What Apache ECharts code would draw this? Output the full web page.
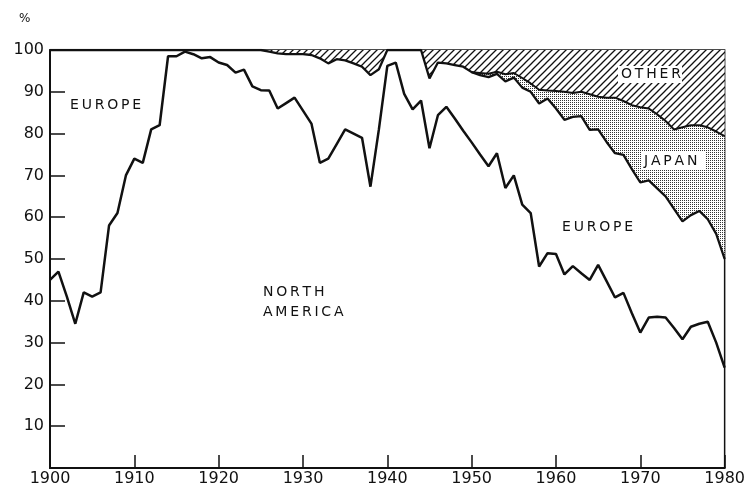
<!DOCTYPE html>
<html>
<head>
<meta charset="utf-8">
<script src="https://cdn.jsdelivr.net/npm/echarts@6/dist/echarts.min.js"></script>
<style>
  html, body { margin: 0; padding: 0; background: #fff; }
  #chart { width: 748px; height: 491px; }
</style>
</head>
<body>
<div id="chart"></div>
<script>
// Years on the x axis, one point per year
const years = Array.from({ length: 81 }, (_, i) => String(1900 + i));

// Upper edge of North America's share (%)
const northAmerica = [
  45, 47, 41, 34.5, 42, 41, 42, 58, 61, 70,
  74, 73, 81, 82, 98.5, 98.5, 99.6, 99, 98, 98.3,
  97, 96.4, 94.6, 95.3, 91.3, 90.4, 90.3, 86, 87.3, 88.6,
  85.5, 82.4, 73, 74, 77.5, 81, 80, 79, 67.3, 81,
  96.2, 97, 89.5, 85.8, 87.9, 76.5, 84.4, 86.4, 83.6, 80.7,
  77.9, 75, 72.2, 75.3, 67, 70, 63, 61, 48.2, 51.4,
  51.2, 46.3, 48.3, 46.6, 45, 48.6, 44.7, 40.8, 41.9, 37,
  32.4, 36, 36.2, 36, 33.5, 30.8, 33.8, 34.5, 35, 30,
  24
];

// Upper edge of North America + Europe (%)
const europeTop = [
  100, 100, 100, 100, 100, 100, 100, 100, 100, 100,
  100, 100, 100, 100, 100, 100, 100, 100, 100, 100,
  100, 100, 100, 100, 100, 100, 99.6, 99.2, 99, 99,
  99, 98.8, 98, 96.8, 97.8, 97.5, 96.8, 96, 94, 95.4,
  100, 100, 100, 100, 100, 93.2, 97, 96.8, 96.4, 96,
  94.7, 94, 93.5, 94.3, 92.5, 93.4, 91, 90, 87.2, 88.4,
  86, 83.3, 84, 84.2, 80.9, 81, 78, 75.3, 74.9, 71.5,
  68.3, 68.8, 66.9, 65, 62, 59, 60.5, 61.5, 59.5, 56,
  50
];

// Upper edge of North America + Europe + Japan (%), 1950-1980
const japanStart = 50; // index of 1950
const japanTop = [
  94.7, 94.5, 94.3, 94.8, 94.2, 94.5, 93.3, 92, 90.5, 90.3,
  90.2, 90, 89.7, 90, 89.4, 88.8, 88.6, 88.6, 87.8, 86.8,
  86.3, 86, 84.6, 83, 81, 81.5, 82, 82, 81.5, 80.5,
  79.4
];

const dom = document.getElementById('chart');
const myChart = echarts.init(dom, null, { renderer: 'canvas' });

// fill patterns
function hatchPattern() {
  const c = document.createElement('canvas');
  c.width = 7; c.height = 7;
  const ctx = c.getContext('2d');
  ctx.fillStyle = '#fff';
  ctx.fillRect(0, 0, 7, 7);
  ctx.strokeStyle = '#111';
  ctx.lineWidth = 1.3;
  ctx.beginPath();
  ctx.moveTo(-1, 8); ctx.lineTo(8, -1);
  ctx.moveTo(-1, 1); ctx.lineTo(1, -1);
  ctx.moveTo(6, 8); ctx.lineTo(8, 6);
  ctx.stroke();
  return c;
}

function dotPattern() {
  const c = document.createElement('canvas');
  c.width = 2; c.height = 2;
  const ctx = c.getContext('2d');
  ctx.fillStyle = '#fff';
  ctx.fillRect(0, 0, 2, 2);
  ctx.fillStyle = '#333';
  ctx.fillRect(0, 0, 1, 1);
  return c;
}

// full-length Japan boundary (null before 1950)
const japanLine = years.map((y, i) => (i >= japanStart ? japanTop[i - japanStart] : null));

// bands for stacked areas
const japanBand = years.map((y, i) => (japanLine[i] == null ? 0 : japanLine[i] - europeTop[i]));
const otherBand = years.map((y, i) => 100 - (japanLine[i] == null ? europeTop[i] : japanLine[i]));

const font = '"DejaVu Sans", sans-serif';
const spaced = (s) => s.split('').join('\u2009');

function label(text, left, top) {
  return {
    type: 'text',
    left, top,
    z: 100,
    style: { text: spaced(text), font: '14px ' + font, fill: '#111' }
  };
}

// white patch behind a label sitting on a pattern
function patch(x, y, width, height) {
  return {
    type: 'rect', z: 99, silent: true,
    shape: { x, y, width, height },
    style: { fill: '#fff' }
  };
}

const option = {
  animation: false,
  backgroundColor: '#fff',
  grid: {
    left: 50, right: 21, top: 50, bottom: 23,
    show: true,
    borderColor: '#111',
    borderWidth: 1.5,
    backgroundColor: 'transparent'
  },
  xAxis: {
    type: 'category',
    data: years,
    boundaryGap: false,
    axisLine: { show: true, lineStyle: { color: '#111', width: 2 } },
    axisTick: { show: true, inside: true, length: 13, interval: 9, lineStyle: { color: '#111', width: 1.5 } },
    axisLabel: { color: '#111', fontSize: 16, fontFamily: font, margin: 3, interval: 9, showMaxLabel: true },
    splitLine: { show: false }
  },
  yAxis: {
    type: 'value',
    min: 0, max: 100, interval: 10,
    axisLine: { show: true, lineStyle: { color: '#111', width: 2 } },
    axisTick: { show: true, inside: true, length: 15, lineStyle: { color: '#111', width: 1.5 } },
    axisLabel: {
      color: '#111', fontSize: 16, fontFamily: font, margin: 6,
      formatter: (v) => (v === 0 ? '' : String(v))
    },
    splitLine: { show: false }
  },
  graphic: [
    { type: 'text', left: 19, top: 13, style: { text: '%', font: '12px ' + font, fill: '#111' } },
    label('EUROPE', 70, 98),
    label('NORTH', 263, 285),
    label('AMERICA', 263, 305),
    patch(618, 66, 64, 17),
    label('OTHER', 621, 67),
    patch(641, 152, 64, 18),
    label('JAPAN', 644, 154),
    label('EUROPE', 562, 220)
  ],
  series: [
    {
      name: 'base', type: 'line', stack: 'share', data: europeTop,
      showSymbol: false, silent: true, lineStyle: { width: 0 }, z: 1
    },
    {
      name: 'Japan', type: 'line', stack: 'share', data: japanBand,
      showSymbol: false, silent: true, lineStyle: { width: 0 },
      areaStyle: { color: { image: dotPattern(), repeat: 'repeat' }, opacity: 1 }, z: 1
    },
    {
      name: 'Other', type: 'line', stack: 'share', data: otherBand,
      showSymbol: false, silent: true, lineStyle: { width: 0 },
      areaStyle: { color: { image: hatchPattern(), repeat: 'repeat' }, opacity: 1 }, z: 1
    },
    {
      name: 'North America', type: 'line', data: northAmerica,
      showSymbol: false, silent: true,
      lineStyle: { color: '#111', width: 2.5 }, z: 5
    },
    {
      name: 'Europe', type: 'line', data: europeTop,
      showSymbol: false, silent: true,
      lineStyle: { color: '#111', width: 2.3 }, z: 5
    },
    {
      name: 'Japan top', type: 'line', data: japanLine,
      showSymbol: false, silent: true,
      lineStyle: { color: '#111', width: 2 }, z: 5
    }
  ]
};

myChart.setOption(option);
</script>
</body>
</html>
